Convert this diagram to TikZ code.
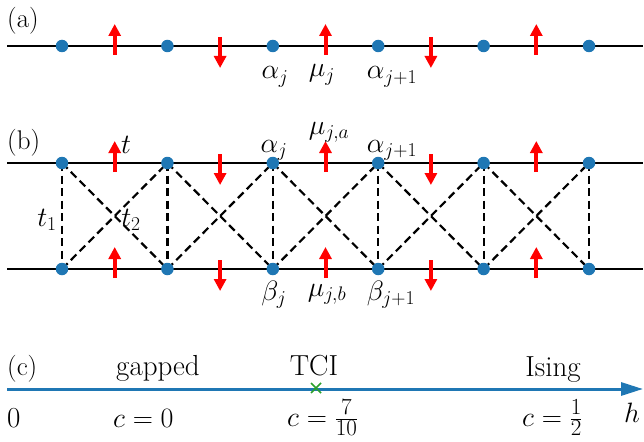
\RequirePackage{fix-cm}
\documentclass[tikz,border=0pt]{standalone}
\usetikzlibrary{arrows.meta}
\definecolor{mplblue}{HTML}{1F77B4}
\definecolor{mplgreen}{HTML}{2CA02C}
\newcommand{\fracdig}[1]{\hbox{\fontsize{23}{25}\selectfont$#1$}}
\begin{document}
\begin{tikzpicture}[x=1pt,y=-1pt,
  chainline/.style={line width=2pt, black},
  site/.style={circle, fill=mplblue, inner sep=0pt, minimum size=12.5pt},
  spin/.style={red, line width=4pt, -{Triangle[width=12pt,length=12pt]}},
  bond/.style={dash pattern=on 8pt off 4.5pt, line width=2.2pt, black},
  lab/.style={font=\fontsize{28}{32}\selectfont, inner sep=0pt, anchor=base},
  tlab/.style={lab, font=\fontsize{29}{33}\selectfont},
  plab/.style={lab, font=\fontsize{27}{31}\selectfont, anchor=base west},
  axis/.style={mplblue, line width=3pt, -{Triangle[width=13pt,length=22pt]}}]
\useasboundingbox (0,0) rectangle (644,441);
% ---------- panel (a)
\coordinate (aL) at (7,46);
\coordinate (aR) at (643,46);
\draw[chainline] (aL) -- (aR);
\foreach \i in {0,...,5}{
  \pgfmathsetmacro\xx{62+105.4*\i}
  \node[site] (s\i) at (\xx,46) {};
}
\foreach \i/\d in {0/1,1/-1,2/1,3/-1,4/1}{
  \pgfmathsetmacro\xx{62+105.4*\i+52.7}
  \ifnum\d=1
    \draw[spin] (\xx,55) -- (\xx,24);
  \else
    \draw[spin] (\xx,37) -- (\xx,68);
  \fi
}
\node[plab] (la) at (7,28) {(a)};
\node[lab] (alj) at (275,79) {$\alpha_j$};
\node[lab] (muj) at (322,77) {$\mu_j$};
\node[lab] (alj1) at (392,79) {$\alpha_{j+1}$};
% ---------- panel (b)
\coordinate (tL) at (7,163);
\coordinate (tR) at (643,163);
\coordinate (bL) at (7,269);
\coordinate (bR) at (643,269);
\draw[chainline] (tL) -- (tR);
\draw[chainline] (bL) -- (bR);
\foreach \i in {0,...,5}{
  \pgfmathsetmacro\xx{62+105.4*\i}
  \coordinate (T\i) at (\xx,163);
  \coordinate (B\i) at (\xx,269);
}
\foreach \i in {0,...,5}{
  \draw[bond] (T\i) -- (B\i);
}
\foreach \i/\j in {0/1,1/2,2/3,3/4,4/5}{
  \draw[bond] (T\i) -- (B\j);
  \draw[bond] (B\i) -- (T\j);
}
\foreach \i/\d in {0/1,1/-1,2/1,3/-1,4/1}{
  \pgfmathsetmacro\xx{62+105.4*\i+52.7}
  \ifnum\d=1
    \draw[spin] (\xx,172) -- (\xx,141);
    \draw[spin] (\xx,278) -- (\xx,247);
  \else
    \draw[spin] (\xx,154) -- (\xx,185);
    \draw[spin] (\xx,260) -- (\xx,291);
  \fi
}
\foreach \i in {0,...,5}{
  \node[site] (ta\i) at (T\i) {};
  \node[site] (tb\i) at (B\i) {};
}
\node[plab] (lb) at (7,149) {(b)};
\node[lab] (tt) at (126,153) {$t$};
\node[lab] (t1) at (47,226) {$t_1$};
\node[lab] (t2) at (131,226) {$t_2$};
\node[lab] (ajb) at (274,152) {$\alpha_j$};
\node[lab] (mja) at (329,134) {$\mu_{j,a}$};
\node[lab] (aj1b) at (392,152) {$\alpha_{j+1}$};
\node[lab] (bj) at (274,300) {$\beta_j$};
\node[lab] (mjb) at (327,296) {$\mu_{j,b}$};
\node[lab] (bj1) at (391,300) {$\beta_{j+1}$};
% ---------- panel (c)
\coordinate (cL) at (7,389);
\coordinate (cR) at (643,389);
\draw[axis] (cL) -- (cR);
\coordinate (tci) at (316,388);
\draw[mplgreen, line width=1.5pt] ([shift={(-5,-5)}]tci) -- ([shift={(5,5)}]tci);
\draw[mplgreen, line width=1.5pt] ([shift={(-5,5)}]tci) -- ([shift={(5,-5)}]tci);
\node[plab] (lc) at (7,375) {(c)};
\node[tlab] (gap) at (158,375) {gapped};
\node[tlab] (tcil) at (314,375) {TCI};
\node[tlab] (isl) at (553,376) {Ising};
\node[tlab, anchor=base west] (zero) at (7,427) {0};
\node[lab, anchor=base west] (c0) at (113,427) {$c=0$};
\node[lab, anchor=base west] (c710) at (287,426) {$c=\frac{\fracdig{7}}{\fracdig{10}}$};
\node[lab, anchor=base west] (c12) at (522,426) {$c=\frac{\fracdig{1}}{\fracdig{2}}$};
\node[lab] (hh) at (632,422) {$h$};
\end{tikzpicture}
\end{document}
